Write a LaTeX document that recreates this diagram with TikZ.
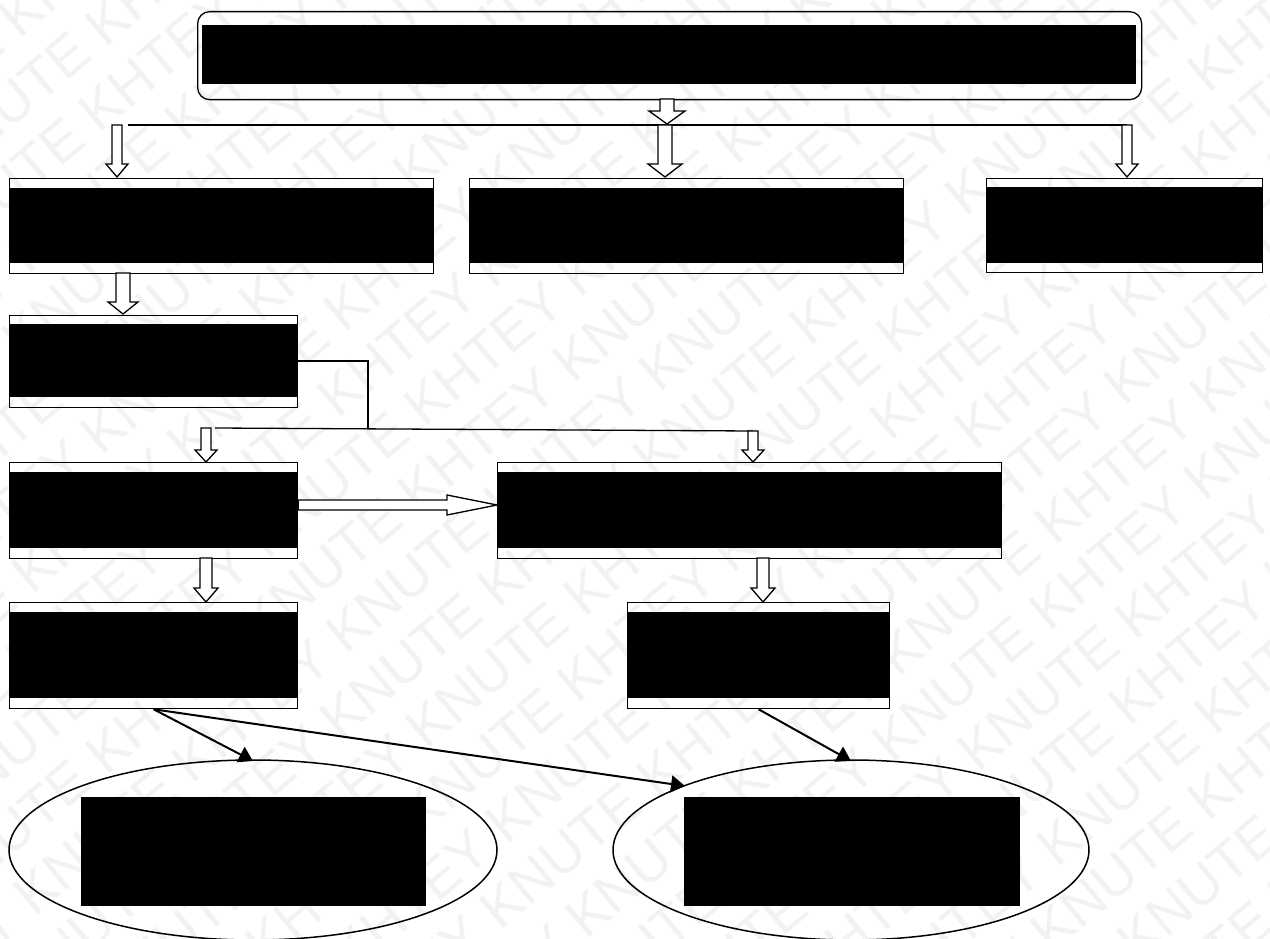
\documentclass[tikz,border=0pt]{standalone}
\usepackage{fontspec}
\newfontfamily\wmfont{Liberation Sans}
\usetikzlibrary{arrows.meta,calc}
\tikzset{
  box/.style={draw, line width=1.3pt, inner sep=0pt, anchor=north west},
  redact/.style={fill=black, inner sep=0pt, anchor=north west},
  blk/.style={draw, line width=1.3pt, fill=white, line join=miter},
  conn/.style={line width=1.3pt},
  fconn/.style={line width=2pt, -{Triangle[length=14pt,width=17pt]}},
  wm/.style={text=black!5, font=\wmfont\fontsize{56}{56}\selectfont, inner sep=0pt},
}
% block arrow down: #1 start, #2 end, #3 shaft half width, #4 head half width, #5 head length
\newcommand\bdown[5]{\draw[blk] let \p1=#1, \p2=#2 in
  (\x1-#3pt,\y1) -- (\x1-#3pt,\y2+#5pt) -- (\x1-#4pt,\y2+#5pt) -- (\x1,\y2)
  -- (\x1+#4pt,\y2+#5pt) -- (\x1+#3pt,\y2+#5pt) -- (\x1+#3pt,\y1) -- cycle;}
\newcommand\bright[5]{\draw[blk] let \p1=#1, \p2=#2 in
  (\x1,\y1+#3pt) -- (\x2-#5pt,\y1+#3pt) -- (\x2-#5pt,\y1+#4pt) -- (\x2,\y1)
  -- (\x2-#5pt,\y1-#4pt) -- (\x2-#5pt,\y1-#3pt) -- (\x1,\y1-#3pt) -- cycle;}
\begin{document}
\begin{tikzpicture}[x=1pt,y=-1pt]
\useasboundingbox (0,0) rectangle (1270,939);
% watermark
\begin{scope}
\clip (0,0) rectangle (1270,939);
\foreach \i in {-18,...,18}{
  \node[wm, rotate=40] at ({635+\i*62*sin(40)+(mod(\i+40,2))*60*cos(40)},{470+\i*62*cos(40)-(mod(\i+40,2))*60*sin(40)})
   {KNUTE KHTEY KNUTE KHTEY KNUTE KHTEY KNUTE KHTEY KNUTE KHTEY KNUTE KHTEY};
}
\end{scope}

% top
\node[box, rounded corners=12pt, minimum width=944, minimum height=88] (top) at (197,11) {};
\node[redact, minimum width=934, minimum height=59] (topr) at (202,25) {};

% row 2
\node[box, minimum width=424, minimum height=95] (a) at (9,178) {};
\node[redact, minimum width=424, minimum height=75] (ar) at (9,188) {};
\node[box, minimum width=434, minimum height=95] (b) at (469,178) {};
\node[redact, minimum width=434, minimum height=75] (br) at (469,188) {};
\node[box, minimum width=276, minimum height=94] (c) at (986,178) {};
\node[redact, minimum width=276, minimum height=76] (cr) at (986,187) {};

% row 3
\node[box, minimum width=288, minimum height=92] (d) at (9,315) {};
\node[redact, minimum width=288, minimum height=73] (dr) at (9,324) {};

% row 4
\node[box, minimum width=288, minimum height=96] (e) at (9,462) {};
\node[redact, minimum width=288, minimum height=76] (er) at (9,472) {};
\node[box, minimum width=504, minimum height=96] (f) at (497,462) {};
\node[redact, minimum width=504, minimum height=76] (fr) at (497,472) {};

% row 5
\node[box, minimum width=288, minimum height=106] (g) at (9,602) {};
\node[redact, minimum width=288, minimum height=86] (gr) at (9,612) {};
\node[box, minimum width=262, minimum height=106] (h) at (627,602) {};
\node[redact, minimum width=262, minimum height=86] (hr) at (627,612) {};

% ellipses
\draw[line width=1.5pt] (253,850) ellipse [x radius=244, y radius=90];
\coordinate (el1top) at (253,761);
\coordinate (el1ne) at (685,786);
\draw[line width=1.5pt] (851,850) ellipse [x radius=238, y radius=90];
\coordinate (el2top) at (851,761);
\node[redact, minimum width=345, minimum height=109] (e1r) at (81,797) {};
\node[redact, minimum width=336, minimum height=109] (e2r) at (684,797) {};

% distribution line under top
\coordinate (busl) at (128,125);
\coordinate (busr) at (1127,125);
\draw[conn] (busl) -- (busr);
\bdown{(667,99)}{(667,124)}{7}{18}{13}
\bdown{(665,125)}{(665,177)}{7}{17}{13}
\bdown{(117,125)}{(117,177)}{5}{11}{13}
\bdown{(1127,125)}{(1127,177)}{5}{11}{13}

% a -> d
\bdown{(123,273)}{(123,314)}{7}{15}{12}

% d connector bus
\coordinate (dk) at (368,361);
\coordinate (dk2) at (368,428);
\coordinate (bus2l) at (215,428);
\coordinate (bus2r) at (753,431);
\draw[conn] (d.east |- dk) -- (dk) -- (dk2);
\draw[conn] (bus2l) -- (bus2r);
\bdown{(206,428)}{(206,462)}{5}{11}{12}
\bdown{(753,431)}{(753,462)}{5}{11}{12}

% e -> f
\bright{(e.east |- 0,505)}{(f.west |- 0,505)}{5}{10}{50}

% e -> g, f -> h
\bdown{(206,558)}{(206,602)}{6}{12}{14}
\bdown{(763,558)}{(763,602)}{6}{12}{14}

% to ellipses
\draw[fconn] (g.south) -- (el1top);
\draw[fconn] (g.south) -- (el1ne);
\draw[fconn] (h.south) -- (el2top);
\end{tikzpicture}
\end{document}
